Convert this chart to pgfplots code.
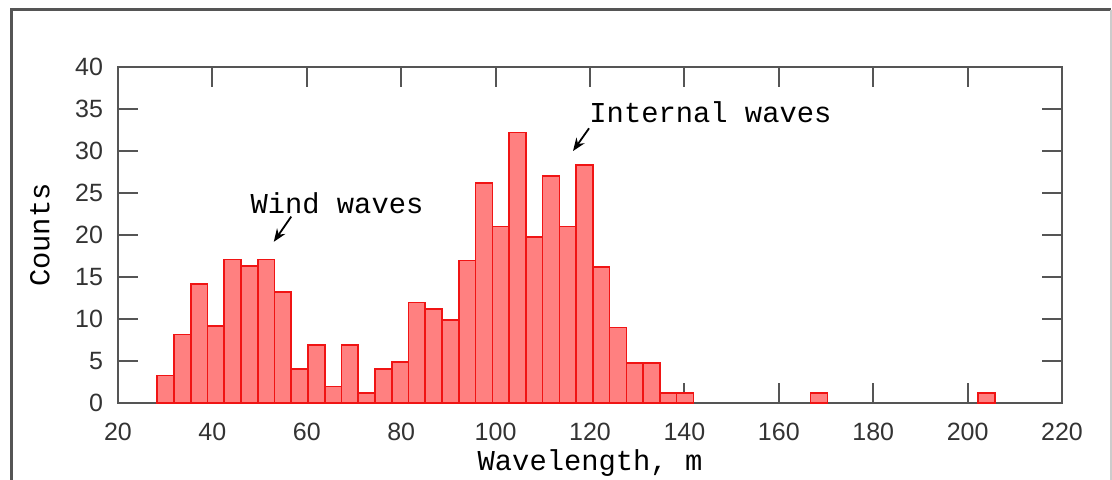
\documentclass[border=0pt]{standalone}
\usepackage{fontspec}
\setmainfont{Liberation Sans}
\newfontfamily\cour{Liberation Mono}
\usepackage{pgfplots}
\pgfplotsset{compat=1.18}
\usetikzlibrary{arrows.meta}

\definecolor{barfill}{RGB}{255,128,128}
\definecolor{baredge}{RGB}{240,20,20}
\definecolor{axgray}{RGB}{85,85,85}

\begin{document}
\begin{tikzpicture}
\useasboundingbox (-59pt,-38.35pt) rectangle (497pt,201.65pt);
% outer frame of the figure window
\draw[axgray, line width=1.5pt] (-53pt,-40pt) -- (-53pt,196.65pt) -- (496.5pt,196.65pt);
\draw[gray!40, line width=1pt] (496.5pt,196.65pt) -- (496.5pt,-40pt);

\begin{axis}[
    scale only axis,
    width=472pt, height=168.2pt,
    xmin=20, xmax=220, ymin=0, ymax=40,
    xtick={20,40,...,220},
    ytick={0,5,...,40},
    axis line style={axgray, line width=1pt},
    major tick style={axgray, line width=1pt},
    major tick length=10pt,
    tick align=inside,
    /pgf/number format/assume math mode=true,
    ticklabel style={font=\fontsize{12.5}{14}\selectfont, text=black!80},
    xticklabel style={yshift=-6.5pt},
    yticklabel style={xshift=-4pt},
    xlabel={Wavelength, m},
    ylabel={Counts},
    label style={font=\cour\fontsize{14.4}{16}\selectfont},
    xlabel style={at={(axis description cs:0.5,0)}, anchor=center, yshift=-30pt},
    ylabel style={at={(axis description cs:0,0.5)}, anchor=center, yshift=39pt},
]
\addplot[ybar, bar width=3.55, bar shift=0pt, fill=barfill, draw=baredge, line width=0.8pt] coordinates {
 (30.08,3.3) (33.63,8.2) (37.18,14.2) (40.73,9.2) (44.28,17.1) (47.83,16.3)
 (51.38,17.1) (54.93,13.2) (58.48,4.1) (62.03,6.9) (65.58,2.0) (69.13,6.9)
 (72.68,1.2) (76.23,4.1) (79.78,4.9) (83.33,12.0) (86.88,11.2) (90.43,9.9)
 (93.98,17.0) (97.53,26.2) (101.08,21.0) (104.63,32.2) (108.18,19.8) (111.73,27.0)
 (115.28,21.0) (118.83,28.3) (122.38,16.2) (125.93,9.0) (129.48,4.8) (133.03,4.8)
 (136.58,1.2) (140.13,1.2) (168.53,1.2) (204.03,1.2)
};
\node[anchor=west, inner sep=0pt, font=\cour\fontsize{14.4}{16}\selectfont] at (axis cs:48.0,23.8) {Wind waves};
\draw[-{Stealth[length=6.5pt,width=5pt]}, line width=0.9pt] (axis cs:56.7,22.2) -- (axis cs:53.0,19.2);
\node[anchor=west, inner sep=0pt, font=\cour\fontsize{14.4}{16}\selectfont] at (axis cs:119.8,34.6) {Internal waves};
\draw[-{Stealth[length=6.5pt,width=5pt]}, line width=0.9pt] (axis cs:119.8,32.7) -- (axis cs:116.4,30.0);
\end{axis}
\end{tikzpicture}
\end{document}
